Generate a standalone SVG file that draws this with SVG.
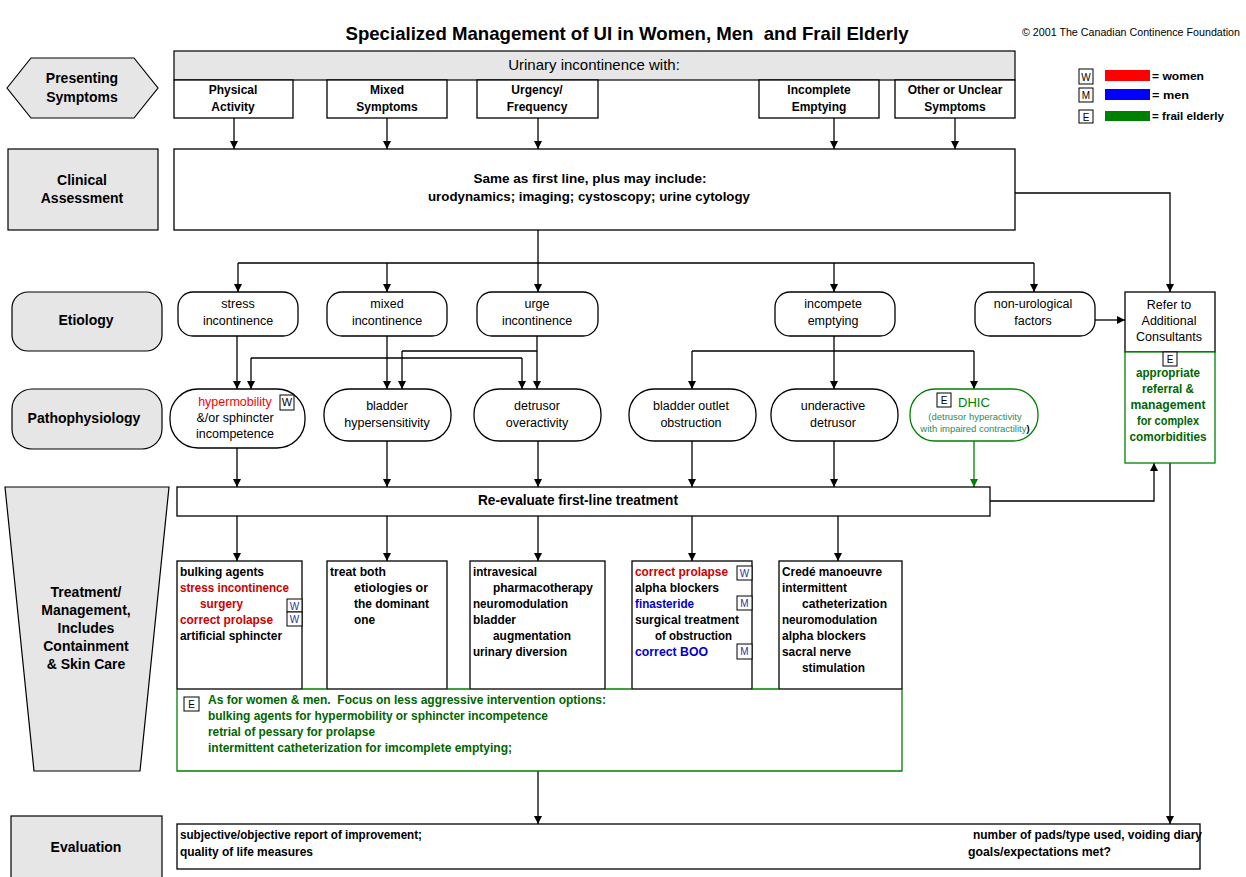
<svg xmlns="http://www.w3.org/2000/svg" width="1246" height="877" viewBox="0 0 1246 877">
<defs>
<marker id="ah" viewBox="0 0 10 10" refX="10" refY="5" markerWidth="9" markerHeight="8" markerUnits="userSpaceOnUse" orient="auto"><path d="M0,0 L10,5 L0,10 z" fill="#000"/></marker>
<marker id="ahg" viewBox="0 0 10 10" refX="10" refY="5" markerWidth="9" markerHeight="8" markerUnits="userSpaceOnUse" orient="auto"><path d="M0,0 L10,5 L0,10 z" fill="#008000"/></marker>
<style>
text{font-family:"Liberation Sans",Arial,sans-serif;fill:#000}
.lab{fill:#e6e6e6;stroke:#000;stroke-width:1.2}
.box{fill:#fff;stroke:#000;stroke-width:1.3}
.gbox{fill:#fff;stroke:#008000;stroke-width:1.3}
.lt{font-size:14px;font-weight:bold;text-anchor:middle}
.sb{font-size:12px;font-weight:bold;text-anchor:middle}
.nt{font-size:12.5px;text-anchor:middle}
.tr{font-size:12px;font-weight:bold}
.red{fill:#cc0000}
.bred{fill:#ff0000}
.blu{fill:#0000cc}
.grn{fill:#006600}
.lgrn{fill:#008000}
.teal{fill:#2e8b57}
.tag{fill:#fff;stroke:#000;stroke-width:1}
.tagt{font-size:10px;text-anchor:middle;fill:#333399}
.ln{fill:none;stroke:#000;stroke-width:1.3}
.ar{fill:none;stroke:#000;stroke-width:1.3;marker-end:url(#ah)}
</style>
</defs>
<rect width="1246" height="877" fill="#fff"/>

<g id="title">
<text x="627" y="40" font-size="19" font-weight="bold" text-anchor="middle" textLength="563" lengthAdjust="spacingAndGlyphs" xml:space="preserve">Specialized Management of UI in Women, Men  and Frail Elderly</text>
<text x="1240" y="36" font-size="10" text-anchor="end" textLength="218" lengthAdjust="spacingAndGlyphs">© 2001 The Canadian Continence Foundation</text>
</g>

<g id="legend">
<rect class="tag" x="1079" y="69" width="14" height="15"/><text x="1086" y="80.5" font-size="10" text-anchor="middle">W</text>
<rect x="1105" y="70" width="45" height="11" fill="#ff0000"/><text x="1152" y="80" font-size="11" font-weight="bold" textLength="52" lengthAdjust="spacingAndGlyphs">= women</text>
<rect class="tag" x="1079" y="88" width="14" height="14"/><text x="1086" y="99" font-size="10" text-anchor="middle">M</text>
<rect x="1105" y="89" width="45" height="11" fill="#0000ff"/><text x="1152" y="99" font-size="11" font-weight="bold" textLength="37" lengthAdjust="spacingAndGlyphs">= men</text>
<rect class="tag" x="1079" y="110" width="14" height="13"/><text x="1086" y="120.5" font-size="10" text-anchor="middle">E</text>
<rect x="1105" y="111" width="45" height="10" fill="#008000"/><text x="1152" y="120" font-size="11" font-weight="bold" textLength="72" lengthAdjust="spacingAndGlyphs">= frail elderly</text>
</g>

<g id="connectors">
<path class="ar" d="M234,118 V149"/>
<path class="ar" d="M387,118 V149"/>
<path class="ar" d="M538,118 V149"/>
<path class="ar" d="M834,118 V149"/>
<path class="ar" d="M955,118 V149"/>
<path class="ar" d="M1015,193 H1170 V292"/>
<path class="ln" d="M538,230 V263"/>
<path class="ln" d="M238,263 H1034"/>
<path class="ar" d="M238,263 V292"/>
<path class="ar" d="M387,263 V292"/>
<path class="ar" d="M538,263 V292"/>
<path class="ar" d="M834,263 V292"/>
<path class="ar" d="M1034,263 V292"/>
<path class="ar" d="M1095,320 H1125"/>
<path class="ar" d="M237,336 V389"/>
<path class="ar" d="M387,336 V389"/>
<path class="ar" d="M537,336 V389"/>
<path class="ln" d="M537,351 H402"/>
<path class="ar" d="M402,351 V389"/>
<path class="ln" d="M251,358 H522"/>
<path class="ar" d="M251,358 V389"/>
<path class="ar" d="M522,358 V389"/>
<path class="ln" d="M834,336 V351"/>
<path class="ln" d="M692,351 H974"/>
<path class="ar" d="M692,351 V389"/>
<path class="ar" d="M834,351 V389"/>
<path class="ar" d="M974,351 V389"/>
<path class="ar" d="M237,448 V487"/>
<path class="ar" d="M387,441 V487"/>
<path class="ar" d="M538,441 V487"/>
<path class="ar" d="M692,441 V487"/>
<path class="ar" d="M834,441 V487"/>
<path d="M974,441 V487" fill="none" stroke="#008000" stroke-width="1.3" marker-end="url(#ahg)"/>
<path class="ar" d="M990,501 H1154 V463"/>
<path class="ar" d="M1170,463 V824"/>
<path class="ar" d="M237,516 V561"/>
<path class="ar" d="M387,516 V561"/>
<path class="ar" d="M538,516 V561"/>
<path class="ar" d="M692,516 V561"/>
<path class="ar" d="M838,516 V561"/>
<path class="ar" d="M538,771 V824"/>
</g>

<g id="presenting-symptoms">
<polygon class="lab" points="7,88 31,58 134,58 158,88 134,118 31,118"/>
<text class="lt" x="82" y="83">Presenting</text>
<text class="lt" x="82" y="102">Symptoms</text>
</g>

<g id="urinary-incontinence">
<rect class="lab" x="174" y="51" width="841" height="29"/>
<text x="594" y="70" font-size="15" text-anchor="middle">Urinary incontinence with:</text>
</g>
<g id="physical-activity">
<rect class="box" x="174" y="80" width="119" height="38"/>
<text class="sb" x="233" y="94">Physical</text><text class="sb" x="233" y="111">Activity</text>
</g>
<g id="mixed-symptoms">
<rect class="box" x="327" y="80" width="120" height="38"/>
<text class="sb" x="387" y="94">Mixed</text><text class="sb" x="387" y="111">Symptoms</text>
</g>
<g id="urgency-frequency">
<rect class="box" x="477" y="80" width="121" height="38"/>
<text class="sb" x="537" y="94">Urgency/</text><text class="sb" x="537" y="111">Frequency</text>
</g>
<g id="incomplete-emptying">
<rect class="box" x="759" y="80" width="120" height="38"/>
<text class="sb" x="819" y="94">Incomplete</text><text class="sb" x="819" y="111">Emptying</text>
</g>
<g id="other-symptoms">
<rect class="box" x="895" y="80" width="120" height="38"/>
<text class="sb" x="955" y="94">Other or Unclear</text><text class="sb" x="955" y="111">Symptoms</text>
</g>

<g id="clinical-assessment-label">
<rect class="lab" x="8" y="149" width="150" height="81"/>
<text class="lt" x="82" y="185">Clinical</text>
<text class="lt" x="82" y="203">Assessment</text>
</g>
<g id="clinical-assessment">
<rect class="box" x="174" y="149" width="841" height="81"/>
<text x="590" y="183" font-size="13" font-weight="bold" text-anchor="middle" textLength="233" lengthAdjust="spacingAndGlyphs">Same as first line, plus may include:</text>
<text x="589" y="201" font-size="13" font-weight="bold" text-anchor="middle" textLength="322" lengthAdjust="spacingAndGlyphs">urodynamics; imaging; cystoscopy; urine cytology</text>
</g>

<g id="etiology-label">
<rect class="lab" x="12" y="292" width="150" height="59" rx="16"/>
<text class="lt" x="86" y="325">Etiology</text>
</g>
<g id="stress-incontinence">
<rect class="box" x="178" y="292" width="120" height="44" rx="15"/>
<text class="nt" x="238" y="308">stress</text><text class="nt" x="238" y="325">incontinence</text>
</g>
<g id="mixed-incontinence">
<rect class="box" x="327" y="292" width="120" height="44" rx="15"/>
<text class="nt" x="387" y="308">mixed</text><text class="nt" x="387" y="325">incontinence</text>
</g>
<g id="urge-incontinence">
<rect class="box" x="477" y="292" width="121" height="44" rx="15"/>
<text class="nt" x="537" y="308">urge</text><text class="nt" x="537" y="325">incontinence</text>
</g>
<g id="incomplete-emptying-etiology">
<rect class="box" x="775" y="292" width="120" height="44" rx="15"/>
<text class="nt" x="833" y="308">incompete</text><text class="nt" x="833" y="325">emptying</text>
</g>
<g id="non-urological">
<rect class="box" x="975" y="292" width="120" height="44" rx="15"/>
<text class="nt" x="1033" y="308">non-urological</text><text class="nt" x="1033" y="325">factors</text>
</g>

<g id="refer-consultants">
<rect class="box" x="1125" y="292" width="90" height="60"/>
<text class="nt" x="1169" y="309">Refer to</text>
<text class="nt" x="1169" y="325">Additional</text>
<text class="nt" x="1169" y="341">Consultants</text>
<rect class="gbox" x="1125" y="352" width="90" height="111"/>
<rect class="tag" x="1163" y="352" width="14" height="14"/><text x="1170" y="363" font-size="10" text-anchor="middle">E</text>
<g font-size="12" font-weight="bold" text-anchor="middle">
<text class="grn" x="1168" y="377" textLength="64" lengthAdjust="spacingAndGlyphs">appropriate</text>
<text class="grn" x="1168" y="393" textLength="52" lengthAdjust="spacingAndGlyphs">referral &amp;</text>
<text class="grn" x="1168" y="409" textLength="75" lengthAdjust="spacingAndGlyphs">management</text>
<text class="grn" x="1168" y="425" textLength="62" lengthAdjust="spacingAndGlyphs">for complex</text>
<text class="grn" x="1168" y="441" textLength="77" lengthAdjust="spacingAndGlyphs">comorbidities</text>
</g>
</g>

<g id="pathophysiology-label">
<rect class="lab" x="12" y="389" width="150" height="60" rx="20"/>
<text class="lt" x="84" y="423">Pathophysiology</text>
</g>
<g id="hypermobility">
<rect class="box" x="170" y="389" width="135" height="59" rx="28"/>
<text class="nt bred" x="235" y="406">hypermobility</text>
<rect class="tag" x="280" y="395" width="14" height="15"/><text x="287" y="406" font-size="11" text-anchor="middle">W</text>
<text class="nt" x="235" y="422">&amp;/or sphincter</text>
<text class="nt" x="235" y="438">incompetence</text>
</g>
<g id="bladder-hypersensitivity">
<rect class="box" x="324" y="389" width="127" height="52" rx="25"/>
<text class="nt" x="387" y="410">bladder</text><text class="nt" x="387" y="427">hypersensitivity</text>
</g>
<g id="detrusor-overactivity">
<rect class="box" x="474" y="389" width="127" height="52" rx="25"/>
<text class="nt" x="537" y="410">detrusor</text><text class="nt" x="537" y="427">overactivity</text>
</g>
<g id="bladder-outlet-obstruction">
<rect class="box" x="629" y="389" width="127" height="52" rx="25"/>
<text class="nt" x="691" y="410">bladder outlet</text><text class="nt" x="691" y="427">obstruction</text>
</g>
<g id="underactive-detrusor">
<rect class="box" x="771" y="389" width="127" height="52" rx="25"/>
<text class="nt" x="833" y="410">underactive</text><text class="nt" x="833" y="427">detrusor</text>
</g>
<g id="dhic">
<rect class="gbox" x="910" y="389" width="128" height="52" rx="25"/>
<rect class="tag" x="937" y="393" width="14" height="14"/><text x="944" y="404" font-size="10" text-anchor="middle">E</text>
<text class="lgrn" x="958" y="407" font-size="13">DHIC</text>
<text class="teal" x="975" y="420" font-size="9.5" text-anchor="middle">(detrusor hyperactivity</text>
<text class="teal" x="975" y="432" font-size="9.5" text-anchor="middle">with impaired contractility<tspan style="fill:#000;font-weight:bold">)</tspan></text>
</g>

<g id="re-evaluate">
<rect class="box" x="177" y="487" width="813" height="29"/>
<text x="578" y="505" font-size="14" font-weight="bold" text-anchor="middle" textLength="200" lengthAdjust="spacingAndGlyphs">Re-evaluate first-line treatment</text>
</g>

<g id="treatment-label">
<polygon class="lab" points="5,487 169,487 140,771 34,771"/>
<text class="lt" x="86" y="597">Treatment/</text>
<text class="lt" x="86" y="615">Management,</text>
<text class="lt" x="86" y="633">Includes</text>
<text class="lt" x="86" y="651">Containment</text>
<text class="lt" x="86" y="669">&amp; Skin Care</text>
</g>

<g id="treatment-stress">
<rect class="box" x="177" y="561" width="125" height="128"/>
<text class="tr" x="180" y="576" textLength="84" lengthAdjust="spacingAndGlyphs">bulking agents</text>
<text class="tr red" x="180" y="592" textLength="109" lengthAdjust="spacingAndGlyphs">stress incontinence</text>
<text class="tr red" x="200" y="608" textLength="43" lengthAdjust="spacingAndGlyphs">surgery</text>
<text class="tr red" x="180" y="624" textLength="93" lengthAdjust="spacingAndGlyphs">correct prolapse</text>
<text class="tr" x="180" y="640" textLength="102" lengthAdjust="spacingAndGlyphs">artificial sphincter</text>
<rect class="tag" x="287" y="599" width="15" height="13"/><text class="tagt" x="294.5" y="609.5">W</text>
<rect class="tag" x="287" y="612" width="15" height="14"/><text class="tagt" x="294.5" y="623">W</text>
</g>
<g id="treatment-mixed">
<rect class="box" x="327" y="561" width="120" height="128"/>
<text class="tr" x="330" y="576" textLength="56" lengthAdjust="spacingAndGlyphs">treat both</text>
<text class="tr" x="354" y="592" textLength="74" lengthAdjust="spacingAndGlyphs">etiologies or</text>
<text class="tr" x="354" y="608" textLength="75" lengthAdjust="spacingAndGlyphs">the dominant</text>
<text class="tr" x="354" y="624" textLength="21" lengthAdjust="spacingAndGlyphs">one</text>
</g>
<g id="treatment-urge">
<rect class="box" x="470" y="561" width="135" height="128"/>
<text class="tr" x="473" y="576" textLength="64" lengthAdjust="spacingAndGlyphs">intravesical</text>
<text class="tr" x="493" y="592" textLength="100" lengthAdjust="spacingAndGlyphs">pharmacotherapy</text>
<text class="tr" x="473" y="608" textLength="95" lengthAdjust="spacingAndGlyphs">neuromodulation</text>
<text class="tr" x="473" y="624" textLength="43" lengthAdjust="spacingAndGlyphs">bladder</text>
<text class="tr" x="493" y="640" textLength="78" lengthAdjust="spacingAndGlyphs">augmentation</text>
<text class="tr" x="473" y="656" textLength="94" lengthAdjust="spacingAndGlyphs">urinary diversion</text>
</g>
<g id="treatment-outlet">
<rect class="box" x="632" y="561" width="120" height="128"/>
<text class="tr red" x="635" y="576" textLength="93" lengthAdjust="spacingAndGlyphs">correct prolapse</text>
<text class="tr" x="635" y="592" textLength="84" lengthAdjust="spacingAndGlyphs">alpha blockers</text>
<text class="tr blu" x="635" y="608" textLength="59" lengthAdjust="spacingAndGlyphs">finasteride</text>
<text class="tr" x="635" y="624" textLength="104" lengthAdjust="spacingAndGlyphs">surgical treatment</text>
<text class="tr" x="655" y="640" textLength="77" lengthAdjust="spacingAndGlyphs">of obstruction</text>
<text class="tr blu" x="635" y="656" textLength="73" lengthAdjust="spacingAndGlyphs">correct BOO</text>
<rect class="tag" x="737" y="566" width="15" height="14"/><text class="tagt" x="744.5" y="577">W</text>
<rect class="tag" x="737" y="596" width="15" height="14"/><text class="tagt" x="744.5" y="607">M</text>
<rect class="tag" x="737" y="644" width="15" height="15"/><text class="tagt" x="744.5" y="655">M</text>
</g>
<g id="treatment-underactive">
<rect class="box" x="779" y="561" width="123" height="128"/>
<text class="tr" x="782" y="576" textLength="100" lengthAdjust="spacingAndGlyphs">Credé manoeuvre</text>
<text class="tr" x="782" y="592" textLength="65" lengthAdjust="spacingAndGlyphs">intermittent</text>
<text class="tr" x="802" y="608" textLength="85" lengthAdjust="spacingAndGlyphs">catheterization</text>
<text class="tr" x="782" y="624" textLength="95" lengthAdjust="spacingAndGlyphs">neuromodulation</text>
<text class="tr" x="782" y="640" textLength="84" lengthAdjust="spacingAndGlyphs">alpha blockers</text>
<text class="tr" x="782" y="656" textLength="69" lengthAdjust="spacingAndGlyphs">sacral nerve</text>
<text class="tr" x="802" y="672" textLength="63" lengthAdjust="spacingAndGlyphs">stimulation</text>
</g>

<g id="treatment-elderly">
<path d="M177,689 V771 H902 V689" fill="none" stroke="#008000" stroke-width="1.3"/>
<path d="M302,689 H327 M447,689 H470 M605,689 H632 M752,689 H779" fill="none" stroke="#008000" stroke-width="1.3"/>
<rect class="tag" x="184" y="697" width="15" height="14"/><text x="191.5" y="708" font-size="10" text-anchor="middle">E</text>
<text class="tr grn" x="208" y="704" textLength="398" lengthAdjust="spacingAndGlyphs" xml:space="preserve">As for women &amp; men.  Focus on less aggressive intervention options:</text>
<text class="tr grn" x="208" y="720" textLength="340" lengthAdjust="spacingAndGlyphs">bulking agents for hypermobility or sphincter incompetence</text>
<text class="tr grn" x="208" y="736" textLength="167" lengthAdjust="spacingAndGlyphs">retrial of pessary for prolapse</text>
<text class="tr grn" x="208" y="752" textLength="304" lengthAdjust="spacingAndGlyphs">intermittent catheterization for imcomplete emptying;</text>
</g>

<g id="evaluation-label">
<rect class="lab" x="11" y="816" width="151" height="62"/>
<text class="lt" x="86" y="852">Evaluation</text>
</g>
<g id="evaluation">
<rect class="box" x="177" y="824" width="1023" height="45"/>
<text class="tr" x="180" y="839" textLength="242" lengthAdjust="spacingAndGlyphs">subjective/objective report of improvement;</text>
<text class="tr" x="180" y="856" textLength="133" lengthAdjust="spacingAndGlyphs">quality of life measures</text>
<text class="tr" x="973" y="839" textLength="229" lengthAdjust="spacingAndGlyphs">number of pads/type used, voiding diary</text>
<text class="tr" x="968" y="856" textLength="143" lengthAdjust="spacingAndGlyphs">goals/expectations met?</text>
</g>
</svg>
